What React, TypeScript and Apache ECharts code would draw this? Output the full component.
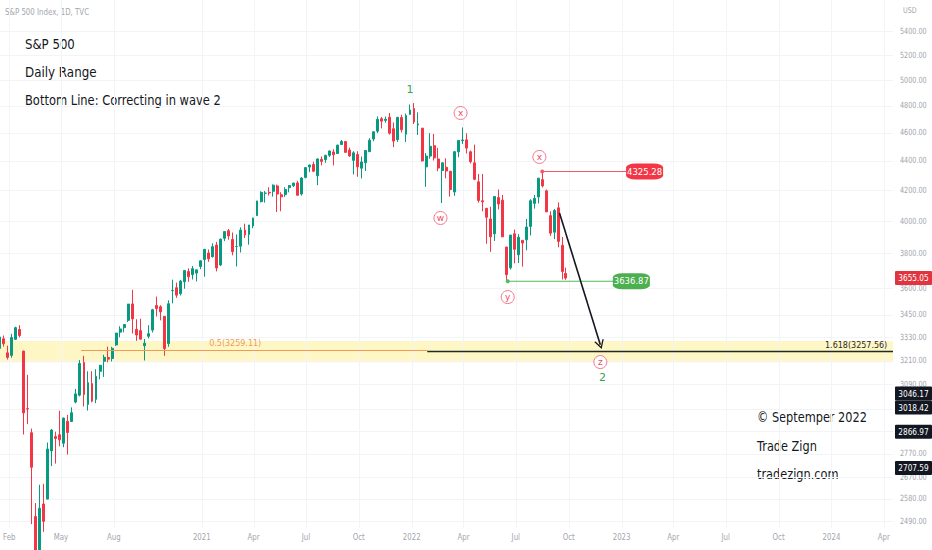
import React, { useEffect, useRef } from "react";
import * as echarts from "echarts";

// ---------- data (weekly S&P 500 bars) ----------
const firstWeekMonday = "2020-01-13";
const lastBarDate = "2022-09-26"; // last bar is a single day
// rows: [open, high, low, close]
const ohlc2020 = [
  [3271, 3330, 3264, 3330], [3321, 3338, 3280, 3295], [3248, 3285, 3214, 3225], [3235, 3347, 3223, 3328],
  [3318, 3385, 3315, 3380], [3370, 3393, 3328, 3338], [3257, 3259, 2855, 2954], [2974, 3137, 2902, 2972],
  [2863, 2882, 2478, 2711], [2508, 2562, 2281, 2305], [2290, 2637, 2192, 2541], [2558, 2641, 2448, 2489],
  [2578, 2819, 2577, 2790], [2782, 2880, 2716, 2875], [2846, 2868, 2727, 2837], [2854, 2964, 2802, 2831],
  [2816, 2932, 2798, 2930], [2915, 2945, 2766, 2864], [2914, 2980, 2913, 2955], [3005, 3068, 2999, 3044],
  [3038, 3211, 3032, 3194], [3199, 3233, 2984, 3041], [2994, 3155, 2965, 3098], [3094, 3155, 3004, 3009],
  [3018, 3165, 3000, 3130], [3155, 3186, 3115, 3185], [3205, 3238, 3127, 3225], [3224, 3280, 3200, 3216],
  [3219, 3279, 3204, 3271], [3289, 3352, 3284, 3351], [3356, 3387, 3329, 3373], [3380, 3399, 3355, 3397],
  [3419, 3509, 3410, 3508], [3509, 3588, 3349, 3427], [3371, 3425, 3310, 3341], [3364, 3428, 3322, 3319],
  [3285, 3320, 3209, 3298], [3334, 3393, 3323, 3348], [3367, 3482, 3354, 3477], [3500, 3550, 3440, 3484],
  [3493, 3502, 3419, 3465], [3441, 3442, 3233, 3270], [3296, 3529, 3279, 3510], [3583, 3646, 3512, 3585],
  [3600, 3629, 3543, 3558], [3566, 3644, 3556, 3638], [3634, 3699, 3594, 3699], [3694, 3712, 3634, 3663],
  [3675, 3726, 3647, 3710], [3684, 3702, 3636, 3703], [3723, 3760, 3707, 3756],
];
const ohlc2021 = [
  [3764, 3827, 3663, 3825], [3803, 3824, 3750, 3768], [3781, 3861, 3775, 3841], [3851, 3870, 3694, 3714],
  [3732, 3891, 3725, 3887], [3892, 3935, 3875, 3934], [3939, 3950, 3884, 3907], [3885, 3928, 3789, 3811],
  [3842, 3915, 3723, 3842], [3844, 3960, 3806, 3943], [3943, 3983, 3894, 3913], [3916, 3975, 3853, 3975],
  [3969, 4020, 3955, 4019], [4034, 4129, 4034, 4129], [4124, 4192, 4119, 4185], [4179, 4194, 4118, 4180],
  [4185, 4219, 4164, 4181], [4192, 4238, 4157, 4233], [4228, 4237, 4057, 4174], [4169, 4186, 4062, 4156],
  [4170, 4219, 4155, 4204], [4216, 4234, 4185, 4230], [4229, 4249, 4220, 4247], [4248, 4262, 4165, 4166],
  [4174, 4287, 4164, 4281], [4285, 4356, 4279, 4352], [4356, 4372, 4321, 4370], [4373, 4393, 4321, 4327],
  [4296, 4416, 4233, 4412], [4409, 4429, 4367, 4395], [4407, 4441, 4385, 4437], [4437, 4470, 4425, 4468],
  [4461, 4480, 4367, 4442], [4450, 4513, 4450, 4509], [4514, 4546, 4513, 4535], [4535, 4536, 4456, 4458],
  [4474, 4492, 4427, 4433], [4402, 4466, 4305, 4455], [4443, 4466, 4289, 4357], [4348, 4429, 4278, 4391],
  [4385, 4475, 4329, 4471], [4463, 4559, 4460, 4545], [4553, 4608, 4537, 4605], [4610, 4718, 4595, 4697],
  [4701, 4714, 4630, 4683], [4689, 4718, 4672, 4698], [4712, 4744, 4585, 4595], [4628, 4673, 4495, 4538],
  [4548, 4713, 4532, 4712], [4710, 4731, 4600, 4620], [4588, 4740, 4531, 4725], [4733, 4808, 4733, 4766],
];
const ohlc2022 = [
  [4778, 4819, 4662, 4677], [4656, 4749, 4582, 4663], [4632, 4632, 4395, 4398], [4357, 4453, 4222, 4432],
  [4432, 4595, 4414, 4501], [4505, 4590, 4401, 4419], [4412, 4490, 4327, 4349], [4332, 4385, 4115, 4385],
  [4354, 4416, 4279, 4329], [4327, 4327, 4157, 4204], [4188, 4465, 4162, 4463], [4462, 4546, 4424, 4543],
  [4541, 4637, 4517, 4546], [4547, 4594, 4450, 4488], [4462, 4471, 4381, 4393], [4385, 4513, 4267, 4272],
  [4255, 4309, 4118, 4132], [4130, 4308, 4062, 4123], [4081, 4081, 3859, 4024], [4013, 4091, 3810, 3901],
  [3920, 4160, 3876, 4158], [4151, 4204, 4074, 4109], [4134, 4168, 3900, 3901], [3839, 3839, 3637, 3675],
  [3715, 3913, 3705, 3912], [3920, 3946, 3741, 3825], [3792, 3918, 3743, 3899], [3880, 3880, 3722, 3863],
  [3883, 4013, 3819, 3962], [3966, 4140, 3910, 4130], [4113, 4168, 4079, 4145], [4155, 4280, 4112, 4280],
  [4270, 4325, 4218, 4228], [4195, 4204, 4057, 4058], [4034, 4062, 3907, 3924], [3930, 4077, 3887, 4067],
  [4084, 4119, 3837, 3873], [3849, 3900, 3647, 3693], [3682, 3716, 3645, 3655],
];

const priceTicks = [5400, 5200, 5000, 4800, 4600, 4400, 4200, 4000, 3800, 3600, 3450, 3330, 3210, 3090, 2970, 2870, 2770, 2670, 2580, 2490];
const timeTickDates = ["2020-02-01", "2020-05-01", "2020-08-01", "2021-01-01", "2021-04-01", "2021-07-01", "2021-10-01", "2022-01-01", "2022-04-01", "2022-07-01", "2022-10-01", "2023-01-01", "2023-04-01", "2023-07-01", "2023-10-01", "2024-01-01", "2024-04-01"];
const timeTickLabels = ["Feb", "May", "Aug", "2021", "Apr", "Jul", "Oct", "2022", "Apr", "Jul", "Oct", "2023", "Apr", "Jul", "Oct", "2024", "Apr"];

const viewStart = "2020-01-16";
const viewEnd = "2024-04-17";
const priceMin = 2463;
const priceMax = 5671;

const bandTop = 3309;
const bandBottom = 3200;
const fibHalf = 3259.11;
const fibExt = 3257.56;
const swingHigh = 4325.28;
const swingHighDates = ["2022-08-16", "2023-01-10"];
const swingLow = 3636.87;
const swingLowDates = ["2022-06-17", "2022-12-18"];
const lastClose = 3655.05;
const axisMarks = [3046.17, 3018.42, 2866.97, 2707.59];

const waveCircles = [
  { text: "x", date: "2022-03-27", price: 4744 },
  { text: "w", date: "2022-02-20", price: 4019 },
  { text: "x", date: "2022-08-11", price: 4426 },
  { text: "y", date: "2022-06-17", price: 3547 },
  { text: "z", date: "2022-11-25", price: 3201 },
];
const waveNumbers = [
  { text: "1", date: "2021-12-29", price: 4920 },
  { text: "2", date: "2022-11-29", price: 3126 },
];

const FONT = '"DejaVu Sans", sans-serif';
const DAY = 86400000;
const t = (s: string) => Date.parse(s + "T00:00:00Z");

export default function App() {
  const ref = useRef<HTMLDivElement>(null);

  useEffect(() => {
    if (!ref.current) return;
    const chart = echarts.init(ref.current, null, { renderer: "svg" });

    const rows = [...ohlc2020, ...ohlc2021, ...ohlc2022];
    const start = t(firstWeekMonday);
    const lastTs = t(lastBarDate);
    const candles = rows.map((r, i) => {
      const monday = start + i * 7 * DAY;
      const x = monday === lastTs ? monday : monday + 2 * DAY;
      return [x, r[0], r[3], r[2], r[1]];
    });

    const xMin = t(viewStart);
    const xMax = t(viewEnd);
    const tickTs = timeTickDates.map(t);
    const tagValues = [lastClose, ...axisMarks];

    const levelSeries = (name: string, dates: string[], value: number, color: string) => ({
      type: "line",
      name,
      silent: true,
      z: 4,
      data: dates.map((d) => [t(d), value]),
      showSymbol: true,
      symbol: "circle",
      symbolSize: (_v: any, p: any) => (p.dataIndex === 0 ? 4 : 0),
      itemStyle: { color },
      lineStyle: { color, width: 1 },
    });

    const option: any = {
      animation: false,
      grid: { left: 0, right: 39, top: 0, bottom: 22, containLabel: false },
      xAxis: {
        type: "time",
        min: xMin,
        max: xMax,
        axisLine: { show: false },
        axisTick: { show: false },
        splitLine: { show: false },
        axisLabel: { show: false },
      },
      yAxis: {
        type: "log",
        logBase: 10,
        min: priceMin,
        max: priceMax,
        position: "right",
        axisLine: { show: false },
        axisTick: { show: false },
        axisLabel: { show: false },
        splitLine: { show: false },
      },
      graphic: [
        { type: "text", x: 5, y: 12, scaleX: 0.78, style: { text: "S&P 500 Index, 1D, TVC", fill: "#a3a6ae", fontSize: 9, fontFamily: FONT, verticalAlign: "middle" } },
        { type: "text", x: 903, y: 10, scaleX: 0.8, style: { text: "USD", fill: "#a3a6ae", fontSize: 8, fontFamily: FONT, verticalAlign: "middle" } },
        { type: "text", x: 25, y: 44, scaleX: 0.84, style: { text: "S&P 500", fill: "#131722", fontSize: 14, fontFamily: FONT, verticalAlign: "middle" } },
        { type: "text", x: 25, y: 72, scaleX: 0.85, style: { text: "Daily Range", fill: "#131722", fontSize: 14, fontFamily: FONT, verticalAlign: "middle" } },
        { type: "text", x: 25, y: 100, scaleX: 0.82, style: { text: "Bottom Line: Correcting in wave 2", fill: "#131722", fontSize: 14, fontFamily: FONT, verticalAlign: "middle" } },
        { type: "text", x: 757, y: 417, scaleX: 0.81, style: { text: "© Septemper 2022", fill: "#131722", fontSize: 14, fontFamily: FONT, verticalAlign: "middle" } },
        { type: "text", x: 757, y: 446, scaleX: 0.81, style: { text: "Trade Zign", fill: "#131722", fontSize: 14, fontFamily: FONT, verticalAlign: "middle" } },
        { type: "text", x: 757, y: 474, scaleX: 0.81, style: { text: "tradezign.com", fill: "#131722", fontSize: 14, fontFamily: FONT, verticalAlign: "middle" } },
      ],
      series: [
        {
          type: "custom",
          name: "priceScale",
          silent: true,
          z: 1,
          clip: false,
          data: priceTicks.map((v) => [xMin, v]),
          encode: { x: 0, y: 1 },
          renderItem: (params: any, api: any) => {
            const v = api.value(1);
            const p = api.coord([api.value(0), v]);
            const cs = params.coordSys;
            const yy = Math.round(p[1]) + 0.5;
            return {
              type: "group",
              children: [
                { type: "line", shape: { x1: cs.x, y1: yy, x2: cs.x + cs.width, y2: yy }, style: { stroke: "#f3f4f7", lineWidth: 1 } },
                { type: "text", x: cs.x + cs.width + 7, y: p[1], scaleX: 0.76, style: { text: v.toFixed(2), fill: "#a3a6ae", fontSize: 8.5, fontFamily: FONT, align: "left", verticalAlign: "middle" } },
              ],
            };
          },
        },
        {
          type: "custom",
          name: "timeScale",
          silent: true,
          z: 1,
          clip: false,
          data: tickTs.map((ts) => [ts, priceMax]),
          encode: { x: 0, y: 1 },
          renderItem: (params: any, api: any) => {
            const p = api.coord([api.value(0), api.value(1)]);
            const cs = params.coordSys;
            const xx = Math.round(p[0]) + 0.5;
            return {
              type: "group",
              children: [
                { type: "line", shape: { x1: xx, y1: cs.y, x2: xx, y2: cs.y + cs.height }, style: { stroke: "#f3f4f7", lineWidth: 1 } },
                { type: "text", x: p[0], y: cs.y + cs.height + 9, scaleX: 0.78, style: { text: timeTickLabels[params.dataIndex], fill: "#a3a6ae", fontSize: 9, fontFamily: FONT, align: "center", verticalAlign: "middle" } },
              ],
            };
          },
        },
        {
          type: "candlestick",
          name: "S&P 500",
          data: candles,
          encode: { x: 0, y: [1, 2, 3, 4] },
          barWidth: 2.4,
          z: 2,
          itemStyle: {
            color: "#089981",
            color0: "#f23645",
            borderColor: "#089981",
            borderColor0: "#f23645",
            borderWidth: 1,
          },
          markArea: {
            silent: true,
            itemStyle: { color: "#fff6c6" },
            data: [[{ coord: [xMin, bandTop] }, { coord: [xMax, bandBottom] }]],
          },
          markLine: {
            silent: true,
            symbol: ["none", "none"],
            label: { show: false },
            lineStyle: { type: "solid", width: 1 },
            data: [
              [{ coord: [t("2020-06-05"), fibHalf], lineStyle: { color: "#f09a55", width: 1, type: "solid" } }, { coord: [t("2022-01-28"), fibHalf] }],
              [{ coord: [t("2022-01-28"), fibExt], lineStyle: { color: "#1f2b20", width: 1.3, type: "solid" } }, { coord: [xMax, fibExt] }],
              [
                { coord: [t("2022-09-15"), 4051], symbol: "none", lineStyle: { color: "#131722", width: 1.6, type: "solid" } },
                { coord: [t("2022-11-25"), 3290], symbol: "path://M0,10 L5,0 L10,10 L8.6,10 L5,2.8 L1.4,10 Z", symbolSize: [10, 9] },
              ],
            ],
          },
          markPoint: {
            silent: true,
            data: [
              ...waveCircles.map((w) => ({
                coord: [t(w.date), w.price],
                symbol: "circle",
                symbolSize: 13,
                itemStyle: { color: "#ffffff", borderColor: "#f2788c", borderWidth: 1 },
                label: { show: true, position: "inside", formatter: w.text, color: "#ef4a66", fontSize: 9, fontFamily: FONT },
              })),
              ...waveNumbers.map((w) => ({
                coord: [t(w.date), w.price],
                symbol: "circle",
                symbolSize: 1,
                itemStyle: { color: "rgba(0,0,0,0)" },
                label: { show: true, position: "inside", formatter: w.text, color: "#35a553", fontSize: 11, fontFamily: FONT },
              })),
              {
                coord: [t("2023-02-10"), swingHigh],
                symbol: "roundRect",
                symbolSize: [37, 16],
                itemStyle: { color: "#f23645" },
                label: { show: true, position: "inside", formatter: swingHigh.toFixed(2), color: "#ffffff", fontSize: 8.5, fontFamily: FONT },
              },
              {
                coord: [t("2023-01-18"), swingLow],
                symbol: "roundRect",
                symbolSize: [37, 16],
                itemStyle: { color: "#4caf50" },
                label: { show: true, position: "inside", formatter: swingLow.toFixed(2), color: "#ffffff", fontSize: 8.5, fontFamily: FONT },
              },
              {
                coord: [t("2021-02-28"), 3294],
                symbol: "circle",
                symbolSize: 1,
                itemStyle: { color: "rgba(0,0,0,0)" },
                label: { show: true, position: "inside", formatter: "0.5(" + fibHalf.toFixed(2) + ")", color: "#f09a55", fontSize: 8, fontFamily: FONT },
              },
              {
                coord: [t("2024-04-07"), 3288],
                symbol: "circle",
                symbolSize: 1,
                itemStyle: { color: "rgba(0,0,0,0)" },
                label: { show: true, position: "inside", align: "right", formatter: "1.618(" + fibExt.toFixed(2) + ")", color: "#1f2b20", fontSize: 8, fontFamily: FONT },
              },
            ],
          },
        },
        levelSeries("swingHigh", swingHighDates, swingHigh, "#f4566c"),
        levelSeries("swingLow", swingLowDates, swingLow, "#56b85a"),
        {
          type: "custom",
          name: "axisTags",
          silent: true,
          z: 10,
          clip: false,
          data: tagValues.map((v) => [xMin, v]),
          encode: { x: 0, y: 1 },
          renderItem: (params: any, api: any) => {
            const cs = params.coordSys;
            let prev = -Infinity;
            let y = 0;
            for (let i = 0; i <= params.dataIndex; i++) {
              const raw = api.coord([xMin, tagValues[i]])[1];
              y = Math.max(raw, prev + 14);
              prev = y;
            }
            const isLast = params.dataIndex === 0;
            return {
              type: "group",
              children: [
                { type: "rect", shape: { x: cs.x + cs.width + 2, y: y - 7, width: 37, height: 14, r: 1 }, style: { fill: isLast ? "#e0343f" : "#131722" } },
                { type: "text", x: cs.x + cs.width + 20.5, y: y, scaleX: 0.82, style: { text: tagValues[params.dataIndex].toFixed(2), fill: "#ffffff", fontSize: 9, fontFamily: FONT, align: "center", verticalAlign: "middle" } },
              ],
            };
          },
        },
      ],
    };

    chart.setOption(option);
    return () => chart.dispose();
  }, []);

  return (
    <div
      ref={ref}
      style={{ position: "fixed", left: 0, top: 0, width: 932, height: 550, background: "#ffffff" }}
    />
  );
}
